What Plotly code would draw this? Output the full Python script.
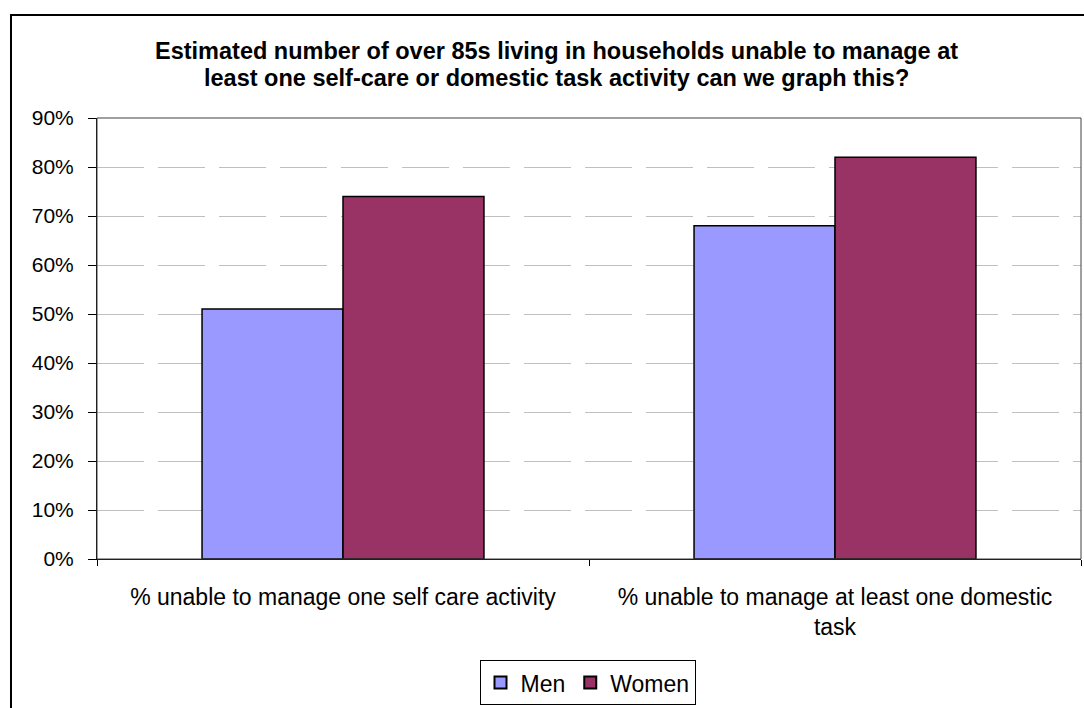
import plotly.graph_objects as go

categories = ["% unable to manage one self care activity",
              "% unable to manage at least one domestic<br>task"]
men = [0.51, 0.68]
women = [0.74, 0.82]
y_ticks = [0, 0.1, 0.2, 0.3, 0.4, 0.5, 0.6, 0.7, 0.8, 0.9]
y_ticklabels = ["0%", "10%", "20%", "30%", "40%", "50%", "60%", "70%", "80%", "90%"]
title_lines = ["Estimated number of over 85s living in households unable to manage at",
               "least one self-care or domestic task activity can we graph this?"]

FONT = "Liberation Sans, Arial, sans-serif"
W, H = 1084, 708
L, R, T, B = 97, 3, 118, 145
pw, ph = W - L - R, H - T - B

def px_x(p):
    return (p - L) / pw

def px_y(p):
    return (H - B - p) / ph

fig = go.Figure()
fig.add_trace(go.Bar(name="Men", x=categories, y=men,
                     marker=dict(color="#9999FF", line=dict(color="black", width=1.5))))
fig.add_trace(go.Bar(name="Women", x=categories, y=women,
                     marker=dict(color="#993366", line=dict(color="black", width=1.5))))

annotations = []
for i, (line, cy) in enumerate(zip(title_lines, [50, 77.5])):
    annotations.append(dict(text="<b>" + line + "</b>", xref="paper", yref="paper",
                            x=px_x(556), y=px_y(cy), xanchor="center", yanchor="middle",
                            showarrow=False,
                            font=dict(family=FONT, size=23.5, color="black")))

fig.update_layout(
    width=W, height=H,
    margin=dict(l=L, r=R, t=T, b=B),
    paper_bgcolor="white", plot_bgcolor="white",
    font=dict(family=FONT, size=21, color="black"),
    barmode="group", bargap=0.427, bargroupgap=0,
    annotations=annotations,
    showlegend=True,
    legend=dict(orientation="h", x=px_x(587.5), xanchor="center",
                y=px_y(665), yanchor="top",
                bordercolor="black", borderwidth=1, bgcolor="white",
                font=dict(family=FONT, size=23, color="black"),
                itemwidth=30, itemsizing="constant"),
    xaxis=dict(showline=True, linecolor="black", linewidth=1,
               ticks="outside", tickson="boundaries", ticklen=6, tickcolor="black",
               ticklabelstandoff=17,
               showgrid=False, tickfont=dict(size=23)),
    yaxis=dict(range=[0, 0.9], tickvals=y_ticks, ticktext=y_ticklabels,
               showline=True, linecolor="black", linewidth=1,
               ticks="outside", ticklen=8, tickcolor="black",
               ticklabelstandoff=10,
               showgrid=True, gridcolor="#C0C0C0", gridwidth=1, griddash="47px,14px",
               zeroline=False, tickfont=dict(size=21)),
    shapes=[
        dict(type="rect", xref="paper", yref="paper", x0=0, x1=1, y0=0, y1=1,
             line=dict(color="#404040", width=1), layer="above"),
        dict(type="rect", xref="paper", yref="paper",
             x0=px_x(11), x1=px_x(1110), y0=px_y(740), y1=px_y(14),
             line=dict(color="black", width=2), layer="above"),
    ],
)

fig.write_html("out.html")
